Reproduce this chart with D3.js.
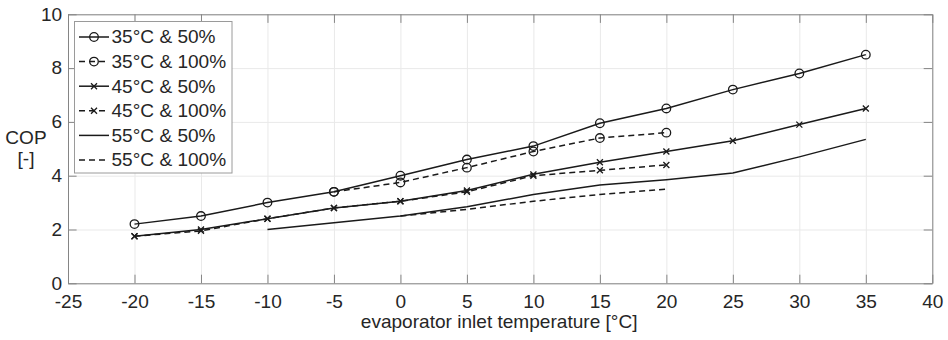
<!DOCTYPE html>
<html>
<head>
<meta charset="utf-8">
<script src="https://cdn.jsdelivr.net/npm/d3@7/dist/d3.min.js"></script>
<style>
  body { margin: 0; background: #fff; }
  text { font-family: "Liberation Sans", Arial, sans-serif; fill: #262626; }
</style>
</head>
<body>
<svg id="chart"></svg>
<script>
// evaporator inlet temperature [°C] for each series
const temps35_50 = [-20, -15, -10, -5, 0, 5, 10, 15, 20, 25, 30, 35];
const cop35_50 = [2.2, 2.5, 3.0, 3.4, 4.0, 4.6, 5.1, 5.95, 6.5, 7.2, 7.8, 8.5];

const temps35_100 = [-5, 0, 5, 10, 15, 20];
const cop35_100 = [3.4, 3.75, 4.3, 4.9, 5.4, 5.6];

const temps45_50 = [-20, -15, -10, -5, 0, 5, 10, 15, 20, 25, 30, 35];
const cop45_50 = [1.75, 2.0, 2.4, 2.8, 3.05, 3.45, 4.05, 4.5, 4.9, 5.3, 5.9, 6.5];

const temps45_100 = [-20, -15, -10, -5, 0, 5, 10, 15, 20];
const cop45_100 = [1.75, 1.95, 2.4, 2.8, 3.05, 3.4, 4.0, 4.2, 4.4];

const temps55_50 = [-10, -5, 0, 5, 10, 15, 20, 25, 30, 35];
const cop55_50 = [2.0, 2.25, 2.5, 2.85, 3.3, 3.65, 3.85, 4.1, 4.7, 5.35];

const temps55_100 = [0, 5, 10, 15, 20];
const cop55_100 = [2.5, 2.75, 3.05, 3.3, 3.5];

const seriesNames = ['35°C & 50%', '35°C & 100%', '45°C & 50%', '45°C & 100%', '55°C & 50%', '55°C & 100%'];
const xTicks = [-25, -20, -15, -10, -5, 0, 5, 10, 15, 20, 25, 30, 35, 40];
const yTicks = [0, 2, 4, 6, 8, 10];
const xLabel = 'evaporator inlet temperature [°C]';
const yLabel = ['COP', '[-]'];

const width = 948, height = 340;
const margin = {top: 14.3, right: 15.7, bottom: 56.7, left: 68};
const sx = 1.06; // text in the picture is slightly wider than tall
const fontSize = 18;
const dash = '6,4';

const series = [
  {name: seriesNames[0], xs: temps35_50, ys: cop35_50, dashed: false, marker: 'circle'},
  {name: seriesNames[1], xs: temps35_100, ys: cop35_100, dashed: true, marker: 'circle'},
  {name: seriesNames[2], xs: temps45_50, ys: cop45_50, dashed: false, marker: 'x'},
  {name: seriesNames[3], xs: temps45_100, ys: cop45_100, dashed: true, marker: 'x'},
  {name: seriesNames[4], xs: temps55_50, ys: cop55_50, dashed: false, marker: null},
  {name: seriesNames[5], xs: temps55_100, ys: cop55_100, dashed: true, marker: null}
];

const svg = d3.select('#chart')
  .attr('width', width)
  .attr('height', height);

const x = d3.scaleLinear().domain([-25, 40]).range([margin.left, width - margin.right]);
const y = d3.scaleLinear().domain([0, 10]).range([height - margin.bottom, margin.top]);

const x0 = x.range()[0], x1 = x.range()[1];
const y0 = y.range()[0], y1 = y.range()[1];

// plain hyphen for negatives, like the original
const fmt = d => String(d);

// grid
svg.append('g')
  .attr('transform', 'translate(0,' + y0 + ')')
  .call(d3.axisBottom(x).tickValues(xTicks).tickSize(-(y0 - y1)).tickFormat(''))
  .call(g => g.select('.domain').remove())
  .call(g => g.selectAll('line').attr('stroke', '#e9e9e9'));
svg.append('g')
  .attr('transform', 'translate(' + x0 + ',0)')
  .call(d3.axisLeft(y).tickValues(yTicks).tickSize(-(x1 - x0)).tickFormat(''))
  .call(g => g.select('.domain').remove())
  .call(g => g.selectAll('line').attr('stroke', '#e9e9e9'));

// axes, ticks inside on all four sides
const tickLen = 8.6;
const axisColor = '#858585';

function styleAxis(g) {
  g.select('.domain').attr('stroke', axisColor).attr('stroke-width', 1);
  g.selectAll('.tick line').attr('stroke', axisColor);
  g.selectAll('.tick text')
    .attr('font-size', fontSize)
    .attr('fill', '#262626')
    .attr('transform', 'scale(' + sx + ',1)');
}

svg.append('g')
  .attr('transform', 'translate(0,' + y0 + ')')
  .call(d3.axisBottom(x).tickValues(xTicks).tickFormat(fmt).tickSizeInner(-tickLen).tickSizeOuter(0).tickPadding(11.5))
  .call(styleAxis);
svg.append('g')
  .attr('transform', 'translate(0,' + y1 + ')')
  .call(d3.axisTop(x).tickValues(xTicks).tickSizeInner(-tickLen).tickSizeOuter(0).tickFormat(''))
  .call(styleAxis);
svg.append('g')
  .attr('transform', 'translate(' + x0 + ',0)')
  .call(d3.axisLeft(y).tickValues(yTicks).tickFormat(fmt).tickSizeInner(-tickLen).tickSizeOuter(0).tickPadding(5.5))
  .call(styleAxis);
svg.append('g')
  .attr('transform', 'translate(' + x1 + ',0)')
  .call(d3.axisRight(y).tickValues(yTicks).tickSizeInner(-tickLen).tickSizeOuter(0).tickFormat(''))
  .call(styleAxis);

// axis titles
svg.append('g')
  .attr('transform', 'translate(' + ((x0 + x1) / 2 - 1) + ',328) scale(' + sx + ',1)')
  .append('text')
  .attr('text-anchor', 'middle')
  .attr('font-size', fontSize)
  .text(xLabel);

yLabel.forEach((t, i) => {
  svg.append('g')
    .attr('transform', 'translate(26,' + (143.5 + i * 21) + ') scale(' + sx + ',1)')
    .append('text')
    .attr('text-anchor', 'middle')
    .attr('font-size', fontSize)
    .text(t);
});

// lines and markers
const line = d3.line()
  .x(d => x(d[0]))
  .y(d => y(d[1]));

function drawMarker(g, type, cx, cy) {
  if (type === 'circle') {
    g.append('circle')
      .attr('cx', cx).attr('cy', cy).attr('r', 4.3)
      .attr('fill', 'none').attr('stroke', '#1a1a1a').attr('stroke-width', 1.3);
  } else if (type === 'x') {
    const s = 3;
    g.append('path')
      .attr('d', `M${cx - s},${cy - s}L${cx + s},${cy + s}M${cx - s},${cy + s}L${cx + s},${cy - s}`)
      .attr('fill', 'none').attr('stroke', '#1a1a1a').attr('stroke-width', 1.3);
  }
}

const plot = svg.append('g');
series.forEach(s => {
  const pts = s.xs.map((t, i) => [t, s.ys[i]]);
  plot.append('path')
    .datum(pts)
    .attr('d', line)
    .attr('fill', 'none')
    .attr('stroke', '#1a1a1a')
    .attr('stroke-width', 1.5)
    .attr('stroke-dasharray', s.dashed ? dash : null);
  const mg = plot.append('g');
  pts.forEach(p => drawMarker(mg, s.marker, x(p[0]), y(p[1])));
});

// legend
const legend = svg.append('g');
legend.append('rect')
  .attr('x', 74.5).attr('y', 21.5)
  .attr('width', 157.5).attr('height', 151.5)
  .attr('fill', '#fff')
  .attr('stroke', '#9a9a9a')
  .attr('stroke-width', 1);

series.forEach((s, i) => {
  const cy = 37 + i * 24.6;
  legend.append('line')
    .attr('x1', 79).attr('x2', 109)
    .attr('y1', cy).attr('y2', cy)
    .attr('stroke', '#1a1a1a')
    .attr('stroke-width', 1.5)
    .attr('stroke-dasharray', s.dashed ? dash : null);
  drawMarker(legend, s.marker, 94, cy);
  legend.append('g')
    .attr('transform', 'translate(111.5,' + (cy + 6.3) + ') scale(' + sx + ',1)')
    .append('text')
    .attr('font-size', fontSize)
    .text(s.name);
});
</script>
</body>
</html>
